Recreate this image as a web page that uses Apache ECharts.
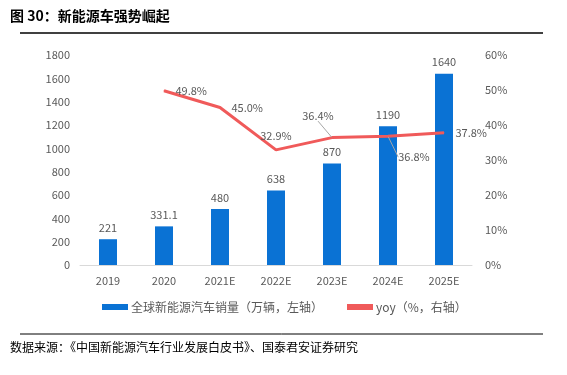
<!DOCTYPE html>
<html>
<head>
<meta charset="utf-8">
<script src="https://cdn.jsdelivr.net/npm/echarts@6/dist/echarts.min.js"></script>
<style>
  html, body { margin: 0; padding: 0; background: #fff; }
  #chart { width: 567px; height: 375px; }
</style>
</head>
<body>
<div id="chart"></div>
<script>
// 新能源车强势崛起 — 销量柱 + yoy 折线
const years = ['2019', '2020', '2021E', '2022E', '2023E', '2024E', '2025E']
const sales = [221, 331.1, 480, 638, 870, 1190, 1640]
const yoy = [null, 49.8, 45.0, 32.9, 36.4, 36.8, 37.8]
const salesTicks = { min: 0, max: 1800, interval: 200 }
const yoyTicks = { min: 0, max: 60, interval: 10 }

const labelColor = '#595959'
const font = '"Noto Sans CJK SC", "Noto Sans", sans-serif'

// 每个 yoy 标签的位置，4、5 两个带引导线
const yoyLabelPos = ['right', 'right', 'right', 'top', 'top', 'bottom', 'right']
const yoyLabelMove = { 4: { dx: -14, dy: -8 }, 5: { dx: 26, dy: 7 } }

const chart = echarts.init(document.getElementById('chart'))

chart.setOption({
  animation: false,
  textStyle: { fontFamily: font },
  grid: { left: 80, right: 95, top: 55, bottom: 110 },
  graphic: [
    {
      type: 'text', left: 10, top: 9,
      style: { text: '图 30：新能源车强势崛起', font: 'bold 14px ' + font, fill: '#000' },
    },
    {
      type: 'line', shape: { x1: 20, y1: 33, x2: 543, y2: 33 },
      style: { stroke: '#000', lineWidth: 1.5 },
    },
    {
      type: 'line', shape: { x1: 20, y1: 334, x2: 543, y2: 334 },
      style: { stroke: '#000', lineWidth: 1 },
    },
    {
      type: 'text', left: 10, top: 341,
      style: { text: '数据来源：《中国新能源汽车行业发展白皮书》、国泰君安证券研究', font: '12px ' + font, fill: '#000' },
    },
  ],
  legend: {
    bottom: 57,
    left: 97,
    itemGap: 24,
    itemWidth: 26,
    itemHeight: 6,
    textStyle: { color: labelColor, fontSize: 12, padding: [0, 0, 0, -2] },
    data: [
      { name: '全球新能源汽车销量（万辆，左轴）', icon: 'rect' },
      { name: 'yoy（%，右轴）', icon: 'rect' },
    ],
  },
  xAxis: {
    type: 'category',
    data: years,
    axisLine: { lineStyle: { color: '#d9d9d9' } },
    axisTick: { show: false },
    axisLabel: { color: labelColor, fontSize: 11, margin: 10 },
  },
  yAxis: [
    {
      type: 'value',
      ...salesTicks,
      splitLine: { show: false },
      axisLine: { show: false },
      axisTick: { show: false },
      axisLabel: { color: labelColor, fontSize: 11, margin: 10, formatter: v => String(v) },
    },
    {
      type: 'value',
      ...yoyTicks,
      splitLine: { show: false },
      axisLine: { show: false },
      axisTick: { show: false },
      axisLabel: { color: labelColor, fontSize: 11, margin: 13, formatter: '{value}%' },
    },
  ],
  series: [
    {
      name: '全球新能源汽车销量（万辆，左轴）',
      type: 'bar',
      data: sales,
      barWidth: 18,
      itemStyle: { color: '#0a72d4' },
      label: { show: true, position: 'top', color: labelColor, fontSize: 11, distance: 6 },
    },
    {
      name: 'yoy（%，右轴）',
      type: 'line',
      yAxisIndex: 1,
      data: yoy.map((v, i) => ({
        value: v,
        label: { position: yoyLabelPos[i], distance: yoyLabelPos[i] === 'right' ? 11 : 8 },
        labelLine: { show: i in yoyLabelMove },
      })),
      symbol: 'circle',
      symbolSize: 1,
      showSymbol: true,
      lineStyle: { color: '#f05a5a', width: 3 },
      itemStyle: { color: '#f05a5a' },
      label: {
        show: true, color: labelColor, fontSize: 11, distance: 8,
        formatter: p => (p.value == null ? '' : Number(p.value).toFixed(1) + '%'),
      },
      labelLine: { show: false, lineStyle: { color: '#a6a6a6', width: 1 } },
      labelLayout: p => yoyLabelMove[p.dataIndex] || {},
    },
  ],
})
</script>
</body>
</html>
